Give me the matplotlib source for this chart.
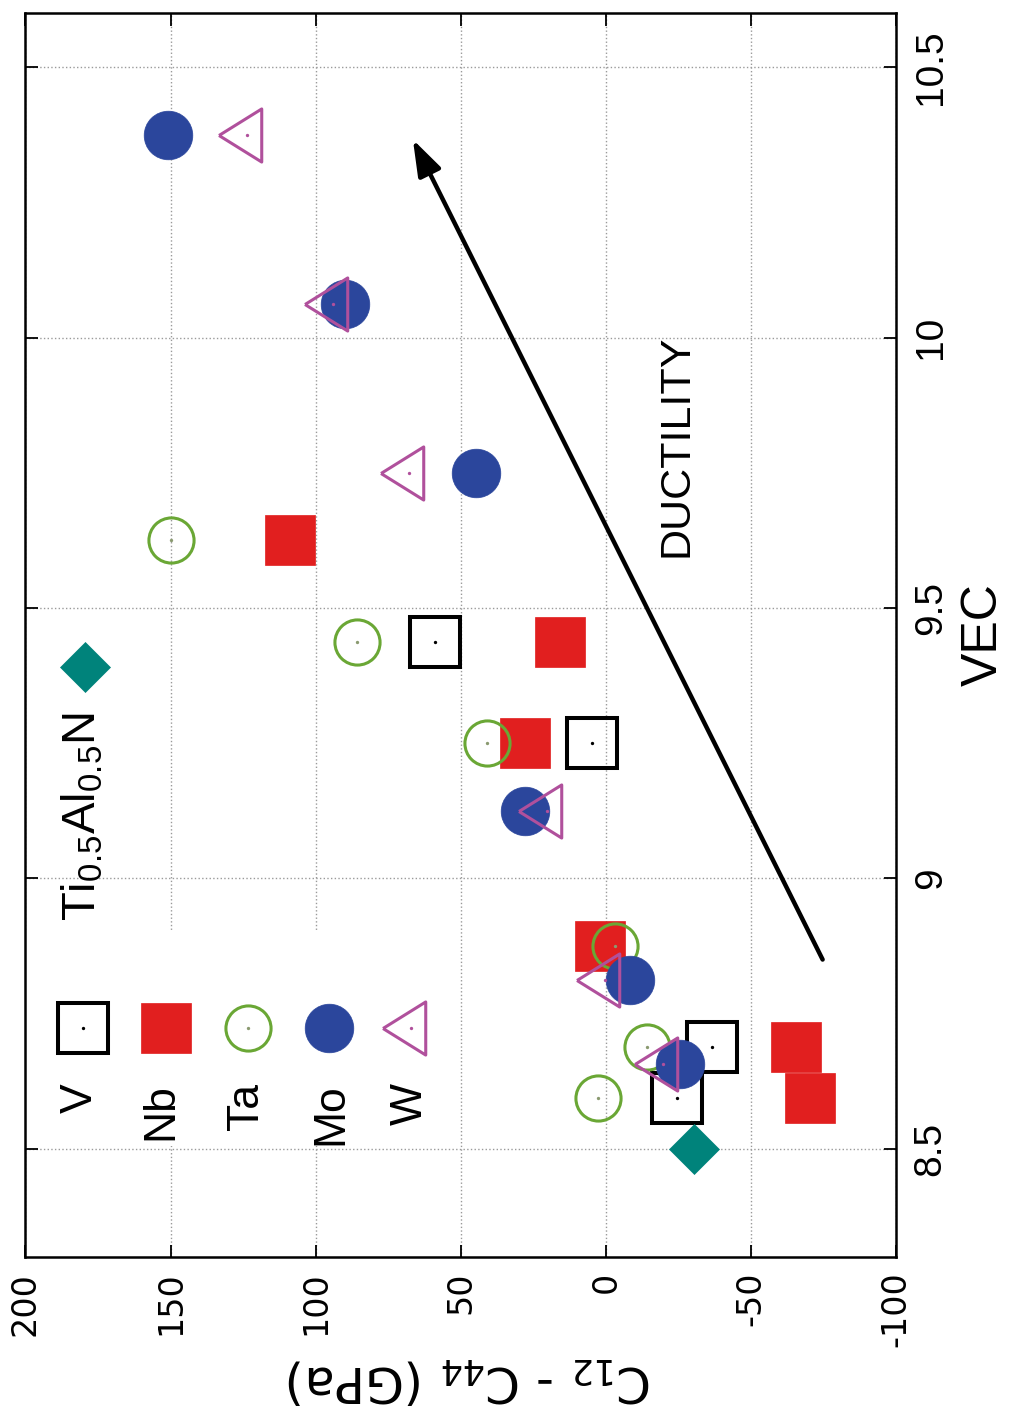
import matplotlib
matplotlib.use("Agg")
import matplotlib.pyplot as plt
from matplotlib.patches import Rectangle

plt.rcParams["axes.unicode_minus"] = False

# VEC and C12 - C44 (GPa) for each alloying element X in (Ti,Al,X)N
vec_V = [8.59375, 8.6875, 9.25, 9.4375]
c_V = [-24.4, -36.5, 4.9, 58.9]

vec_Nb = [8.59375, 8.6875, 8.875, 9.25, 9.4375, 9.625]
c_Nb = [-70.2, -65.4, 2.1, 27.9, 15.8, 108.8]

vec_Ta = [8.59375, 8.6875, 8.875, 9.25, 9.4375, 9.625]
c_Ta = [2.8, -14.1, -3.1, 41.0, 85.8, 149.8]

vec_Mo = [8.65625, 8.8125, 9.125, 9.75, 10.0625, 10.375]
c_Mo = [-25.5, -8.3, 27.9, 44.8, 89.9, 150.8]

vec_W = [8.65625, 8.8125, 9.125, 9.75, 10.0625, 10.375]
c_W = [-19.7, 0.2, 20.3, 67.8, 93.9, 123.7]

vec_TiAlN = [8.5]
c_TiAlN = [-30.3]

c_ticks = [200, 150, 100, 50, 0, -50, -100]
vec_ticks = [8.5, 9, 9.5, 10, 10.5]
vec_tick_labels = ["8.5", "9", "9.5", "10", "10.5"]

element_names = ["V", "Nb", "Ta", "Mo", "W"]

SANS = ["Liberation Sans", "DejaVu Sans"]

# colours
c_black = "#000000"
c_red = "#e11f1f"
c_green = "#6aa735"
c_blue = "#2b469c"
c_purple = "#b0509c"
c_teal = "#00837b"

# left-pointing triangle, centred on its centroid
tri_left = [(-1.0, 0.0), (0.5, 0.933), (0.5, -0.933), (-1.0, 0.0)]

styles = {
    "V": dict(marker="s", ms=36, mfc="none", mec=c_black, mew=2.9),
    "Nb": dict(marker="s", ms=36.5, mfc=c_red, mec=c_red, mew=0.5),
    "Ta": dict(marker="o", ms=32.5, mfc="none", mec=c_green, mew=2.2),
    "Mo": dict(marker="o", ms=35, mfc=c_blue, mec=c_blue, mew=0.5),
    "W": dict(marker=tri_left, ms=41, mfc="none", mec=c_purple, mew=2.2),
}
dot_colors = {"V": c_black, "Ta": "#8a9a70", "W": c_purple}

fig = plt.figure(figsize=(10.11, 14.08), dpi=100)
ax = fig.add_axes([0.0252, 0.1072, 0.8611, 0.8836])

ax.set_xlim(200, -100)
ax.set_ylim(8.3, 10.6)

ax.grid(True, color="#9a9a9a", linestyle=":", linewidth=1.0)
ax.set_axisbelow(True)

series = {
    "V": (c_V, vec_V),
    "Nb": (c_Nb, vec_Nb),
    "Ta": (c_Ta, vec_Ta),
    "Mo": (c_Mo, vec_Mo),
    "W": (c_W, vec_W),
}

z = 3
for name in element_names:
    xs, ys = series[name]
    ax.plot(xs, ys, linestyle="none", zorder=z, **styles[name])
    if name in dot_colors:
        ax.plot(xs, ys, linestyle="none", marker="o", ms=2.4,
                mfc=dot_colors[name], mec="none", zorder=z + 0.5)
    z += 1

ax.plot(c_TiAlN, vec_TiAlN, linestyle="none", marker="D", ms=25.5,
        mfc=c_teal, mec=c_teal, mew=0.5, zorder=z)

# key box (opaque) with samples and labels
ax.add_patch(Rectangle((0.0, 0.089), 0.49, 0.172, transform=ax.transAxes,
                       facecolor="white", edgecolor="none", zorder=1))
key_x = [0.066, 0.161, 0.256, 0.349, 0.443]
label_x = [0.0764, 0.169, 0.267, 0.364, 0.455]
for name, kx, lx in zip(element_names, key_x, label_x):
    ax.plot([kx], [0.184], transform=ax.transAxes, linestyle="none",
            clip_on=False, zorder=10, **styles[name])
    if name in dot_colors:
        ax.plot([kx], [0.184], transform=ax.transAxes, linestyle="none",
                marker="o", ms=2.4, mfc=dot_colors[name], mec="none",
                clip_on=False, zorder=11)
    ax.text(lx, 0.140, name, transform=ax.transAxes, rotation=90,
            rotation_mode="anchor", ha="right", va="baseline",
            fontsize=32, family=SANS, zorder=12)

ax.plot([0.068], [0.474], transform=ax.transAxes, linestyle="none",
        marker="D", ms=25.5, mfc=c_teal, mec=c_teal, mew=0.5, zorder=10)
ax.text(0.081, 0.438, r"$\mathregular{Ti_{0.5}Al_{0.5}N}$",
        transform=ax.transAxes, rotation=90, rotation_mode="anchor",
        ha="right", va="baseline", fontsize=34, family=SANS, zorder=12)

# ductility trend arrow
ax.annotate("", xy=(66.5, 10.366), xytext=(-74.7, 8.85),
            arrowprops=dict(arrowstyle="-|>,head_length=2.2,head_width=0.75",
                            color="black", lw=3.2, shrinkA=0, shrinkB=0,
                            mutation_scale=10),
            zorder=9)
ax.text(-28.2, 9.80, "DUCTILITY", rotation=90, rotation_mode="anchor",
        ha="center", va="baseline", fontsize=31, family=SANS, zorder=12)

# axes, ticks and labels
ax.set_xticks(c_ticks)
ax.set_xticklabels([str(t) for t in c_ticks])
ax.set_yticks(vec_ticks)
ax.set_yticklabels(vec_tick_labels)

ax.tick_params(axis="both", which="major", direction="in", length=9,
               width=1.3, top=True, bottom=True, left=True, right=True)
ax.tick_params(axis="x", labelbottom=True, pad=10.5)
ax.tick_params(axis="y", labelleft=False, labelright=True, pad=12)

for lbl in ax.get_xticklabels():
    lbl.set_rotation(90)
    lbl.set_fontsize(24)
    lbl.set_family("DejaVu Sans")
    lbl.set_ha("center")
    lbl.set_va("top")
for lbl in ax.get_yticklabels():
    lbl.set_rotation(90)
    lbl.set_fontsize(28)
    lbl.set_family(SANS)
    lbl.set_ha("left")
    lbl.set_va("center")

for s in ax.spines.values():
    s.set_linewidth(1.8)
    s.set_color("black")

ax.set_xlabel(r"$\mathregular{C_{12}}$ - $\mathregular{C_{44}}$ (GPa)",
              fontsize=36, family="DejaVu Sans", rotation=180, va="center")
ax.xaxis.set_label_coords(0.51, -0.099)

ax.yaxis.set_label_position("right")
ax.set_ylabel("VEC", fontsize=36, family=SANS, rotation=90)
ax.yaxis.set_label_coords(1.074, 0.5)

fig.savefig("out.png", dpi=100, facecolor="white")
